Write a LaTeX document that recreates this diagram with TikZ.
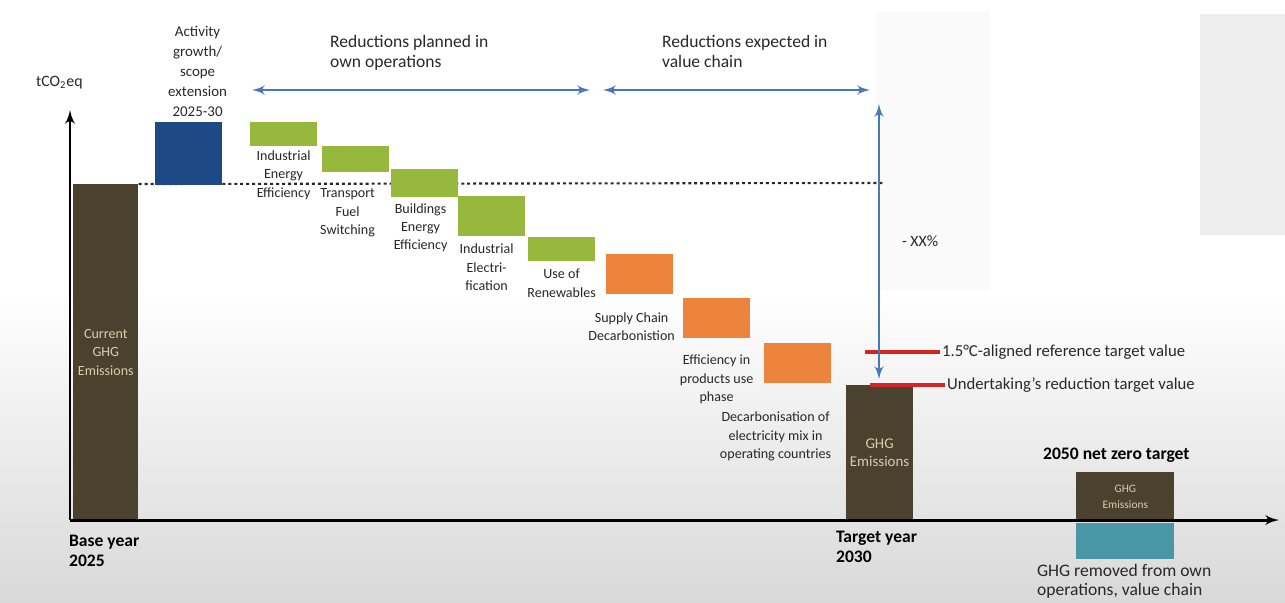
\documentclass[tikz,border=0pt]{standalone}
\usepackage{fontspec}
\setmainfont{Carlito}
\usetikzlibrary{shapes,arrows,positioning}
\definecolor{ghgbrown}{RGB}{74,66,46}
\definecolor{ghgtext}{RGB}{216,206,172}
\definecolor{growthblue}{RGB}{30,72,134}
\definecolor{leafgreen}{RGB}{150,184,60}
\definecolor{chainorange}{RGB}{236,132,62}
\definecolor{removedteal}{RGB}{72,150,166}
\definecolor{spanblue}{RGB}{70,120,188}
\definecolor{targetred}{RGB}{212,36,36}
\definecolor{inkgray}{RGB}{40,40,40}
\tikzstyle{bar} = [rectangle, anchor=north west, inner sep=0pt, minimum width=1.33cm]
\tikzstyle{ghg} = [bar, fill=ghgbrown, text=ghgtext, align=center,
    font=\fontsize{8}{10.5}\selectfont]
\tikzstyle{lever} = [text=inkgray, align=center, inner sep=1pt,
    font=\fontsize{8}{10.5}\selectfont]
\tikzstyle{caption} = [text=inkgray, align=left, inner sep=1pt,
    font=\fontsize{10}{11.5}\selectfont]
\tikzstyle{year} = [text=black, align=left, inner sep=1pt,
    font=\fontsize{10}{11.5}\selectfont\bfseries]
\tikzstyle{axis} = [draw, line width=1.7pt, -latex']
\tikzstyle{span} = [draw, spanblue, line width=1.5pt, latex'-latex']
\tikzstyle{baseline} = [draw, inkgray, line width=1.2pt, dash pattern=on 1.7pt off 1.7pt]
\tikzstyle{redmark} = [draw, targetred, line width=2.3pt]

\begin{document}
\begin{tikzpicture}[x=0.02cm, y=-0.02cm, node distance=1pt]
    \useasboundingbox (0,0) rectangle (1285,602);
    % Backdrop
    \fill [top color=white, bottom color=black!15] (0,290) rectangle (1285,602);
    \fill [black!2] (876,12) rectangle (990,290);
    \fill [black!7] (1200,14) rectangle (1285,235);

    % Place nodes
    \node [ghg, minimum width=1.30cm, minimum height=6.72cm] (base) at (73,184) {Current\\GHG\\Emissions};
    \coordinate (baseend) at (885,183);
    \path [baseline] (base.north east) -- (baseend);

    \node [bar, fill=growthblue, minimum height=1.26cm] (growth) at (155,122) {};
    \node [lever, above=2pt of growth, xshift=0.18cm, font=\fontsize{8.5}{11.3}\selectfont] (growthtext) {Activity\\growth/\\scope\\extension\\2025-30};

    \node [bar, fill=leafgreen, minimum height=0.48cm] (ie) at (250,122) {};
    \node [bar, fill=leafgreen, minimum height=0.52cm] (tfs) at (322,146) {};
    \node [bar, fill=leafgreen, minimum height=0.56cm] (bee) at (391,169) {};
    \node [bar, fill=leafgreen, minimum height=0.80cm] (iel) at (458,196) {};
    \node [bar, fill=leafgreen, minimum height=0.48cm] (ren) at (528,237) {};
    \node [bar, fill=chainorange, minimum height=0.80cm] (sc) at (606,254) {};
    \node [bar, fill=chainorange, minimum height=0.80cm] (pu) at (683,298) {};
    \node [bar, fill=chainorange, minimum height=0.80cm] (elm) at (764,343) {};

    \node [lever, below=1pt of ie] {Industrial\\Energy\\Efficiency};
    \node [lever, below=8pt of tfs, xshift=-0.16cm] {Transport\\Fuel\\Switching};
    \node [lever, below=2pt of bee, xshift=-0.08cm] {Buildings\\Energy\\Efficiency};
    \node [lever, below=3pt of iel, xshift=-0.10cm] {Industrial\\Electri-\\fication};
    \node [lever, below=3pt of ren] {Use of\\Renewables};
    \node [lever, below=9pt of sc, xshift=-0.16cm] {Supply Chain\\Decarbonistion};
    \node [lever, below=8pt of pu] {Efficiency in\\products use\\phase};
    \node [lever, below=15pt of elm, xshift=-0.44cm] {Decarbonisation of\\electricity mix in\\operating countries};

    \node [ghg, font=\fontsize{8.5}{10.5}\selectfont, minimum height=2.70cm] (target) at (846,385) {GHG\\Emissions};

    \node [ghg, font=\fontsize{6.5}{9}\selectfont, minimum width=1.96cm, minimum height=0.98cm] (netzero) at (1076,472) {GHG\\Emissions};
    \node [bar, fill=removedteal, minimum width=1.96cm, minimum height=0.72cm] (removed) at (1076,523) {};
    \node [year, above=4pt of netzero, xshift=-0.18cm] (nztext) {2050 net zero target};
    \node [caption, anchor=north west, font=\fontsize{10}{11}\selectfont] (removedtext) at (1035,562) {GHG removed from own\\operations, value chain};

    \node [caption, anchor=north west] (owntext) at (328,33) {Reductions planned in\\own operations};
    \node [caption, anchor=north west] (chaintext) at (660,33) {Reductions expected in\\value chain};

    \node [caption, font=\fontsize{9.5}{11}\selectfont, anchor=west] (reftext) at (940,352) {1.5°C-aligned reference target value};
    \node [caption, font=\fontsize{9.5}{11}\selectfont, anchor=west] (uttext) at (945,385) {Undertaking’s reduction target value};

    \node [caption, font=\fontsize{9}{11}\selectfont, anchor=west] (unit) at (34,83) {tCO\textsubscript{2}eq};
    \node [year, anchor=north west] (baseyear) at (67,533) {Base year\\2025};
    \node [year, anchor=north west] (targetyear) at (834,529) {Target year\\2030};

    % Draw edges
    \coordinate (origin) at (70,520);
    \coordinate (ytip) at (70,110);
    \coordinate (xtip) at (1279,520);
    \path [axis] (origin) -- (ytip);
    \path [axis] (origin) -- (xtip);

    \coordinate (ownleft) at (252,90);
    \coordinate (ownright) at (590,90);
    \coordinate (chainleft) at (603,90);
    \coordinate (chainright) at (870,90);
    \path [span] (ownleft) -- (ownright);
    \path [span] (chainleft) -- (chainright);

    \coordinate (refstart) at (865,352);
    \coordinate (utstart) at (870,385);
    \path [redmark] (refstart) -- (reftext);
    \path [redmark] (utstart) -- (uttext);

    \coordinate (cuttop) at (879,104);
    \coordinate (cutbottom) at (879,379);
    \path [span] (cuttop) -- node [caption, anchor=west, xshift=0.4cm, font=\fontsize{9}{11}\selectfont] {- XX\%} (cutbottom);
\end{tikzpicture}
\end{document}
